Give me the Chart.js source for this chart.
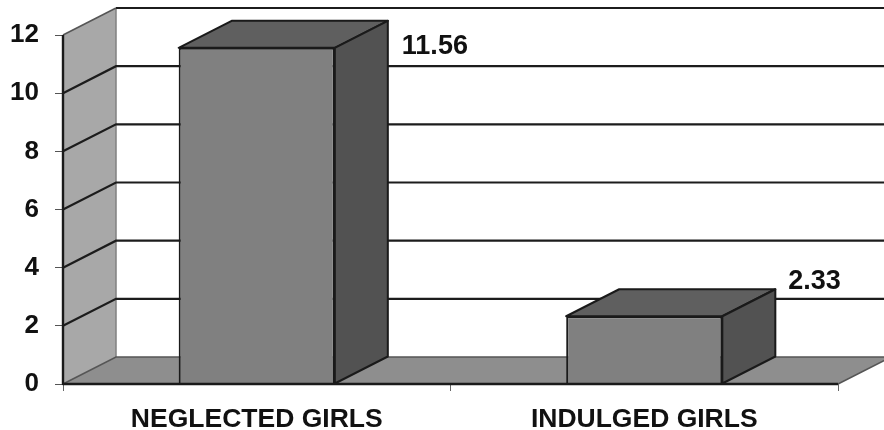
<!DOCTYPE html>
<html>
<head>
<meta charset="utf-8">
<style>html,body{margin:0;padding:0;background:#fff}canvas{display:block}</style>
<script src="https://cdn.jsdelivr.net/npm/chart.js@4"></script>
</head>
<body>
<canvas id="c" width="884" height="430"></canvas>
<script>
const categories = ["NEGLECTED GIRLS", "INDULGED GIRLS"];
const values = [11.56, 2.33];
const valueLabels = ["11.56", "2.33"];
const yTicks = [0, 2, 4, 6, 8, 10, 12];

const DX = 53, DY = 27;
const FONT = '"Liberation Sans", Arial, sans-serif';

const box3d = {
  id: 'box3d',
  beforeDatasetsDraw(chart) {
    const ctx = chart.ctx, a = chart.chartArea, y = chart.scales.y;
    const W = chart.width;
    ctx.save();
    // side wall
    ctx.fillStyle = '#a8a8a8';
    ctx.beginPath();
    ctx.moveTo(a.left, a.top); ctx.lineTo(a.left + DX, a.top - DY);
    ctx.lineTo(a.left + DX, a.bottom - DY); ctx.lineTo(a.left, a.bottom);
    ctx.closePath(); ctx.fill();
    ctx.strokeStyle = '#808080'; ctx.lineWidth = 1.5;
    ctx.beginPath();
    ctx.moveTo(a.left + DX, a.top - DY); ctx.lineTo(a.left + DX, a.bottom - DY);
    ctx.stroke();
    // floor
    ctx.fillStyle = '#8e8e8e';
    ctx.beginPath();
    ctx.moveTo(a.left, a.bottom); ctx.lineTo(a.left + DX, a.bottom - DY);
    ctx.lineTo(a.right + DX, a.bottom - DY); ctx.lineTo(a.right, a.bottom);
    ctx.closePath(); ctx.fill();
    ctx.strokeStyle = '#555'; ctx.lineWidth = 1.5;
    ctx.beginPath();
    ctx.moveTo(a.left, a.bottom); ctx.lineTo(a.left + DX, a.bottom - DY);
    ctx.lineTo(W + DX, a.bottom - DY);
    ctx.moveTo(a.right, a.bottom); ctx.lineTo(a.right + DX, a.bottom - DY);
    ctx.stroke();
    // grid
    yTicks.forEach(v => {
      if (v === 0) return;
      const p = y.getPixelForValue(v);
      ctx.strokeStyle = '#1c1c1c'; ctx.lineWidth = 2.2;
      ctx.beginPath();
      if (v === 12) {
        ctx.moveTo(a.left + DX, p - DY); ctx.lineTo(W, p - DY);
        ctx.stroke();
        ctx.strokeStyle = '#555'; ctx.lineWidth = 1.5;
        ctx.beginPath();
        ctx.moveTo(a.left, p); ctx.lineTo(a.left + DX, p - DY);
      } else {
        ctx.moveTo(a.left, p); ctx.lineTo(a.left + DX, p - DY); ctx.lineTo(W, p - DY);
      }
      ctx.stroke();
    });
    ctx.restore();
  },
  afterDatasetsDraw(chart) {
    const ctx = chart.ctx, meta = chart.getDatasetMeta(0);
    ctx.save();
    ctx.lineJoin = 'round';
    ctx.strokeStyle = '#1a1a1a'; ctx.lineWidth = 2;
    meta.data.forEach((bar, i) => {
      const l = bar.x - bar.width / 2, r = bar.x + bar.width / 2, t = bar.y, b = bar.base;
      ctx.fillStyle = '#5f5f5f';
      ctx.beginPath();
      ctx.moveTo(l, t); ctx.lineTo(l + DX, t - DY); ctx.lineTo(r + DX, t - DY); ctx.lineTo(r, t);
      ctx.closePath(); ctx.fill(); ctx.stroke();
      ctx.fillStyle = '#525252';
      ctx.beginPath();
      ctx.moveTo(r, t); ctx.lineTo(r + DX, t - DY); ctx.lineTo(r + DX, b - DY); ctx.lineTo(r, b);
      ctx.closePath(); ctx.fill(); ctx.stroke();
    });
    // value labels
    ctx.fillStyle = '#111';
    ctx.font = 'bold 27px ' + FONT;
    ctx.textAlign = 'left'; ctx.textBaseline = 'middle';
    const off = [[67, -1], [66, -35]];
    meta.data.forEach((bar, i) => {
      ctx.fillText(valueLabels[i], bar.x + bar.width / 2 + off[i][0], bar.y + off[i][1]);
    });
    // axis lines on top
    const a = chart.chartArea;
    ctx.strokeStyle = '#1a1a1a'; ctx.lineWidth = 2.4;
    ctx.beginPath();
    ctx.moveTo(a.left, a.top); ctx.lineTo(a.left, a.bottom); ctx.lineTo(a.right, a.bottom);
    ctx.stroke();
    ctx.restore();
  }
};

new Chart(document.getElementById('c'), {
  type: 'bar',
  data: {
    labels: categories,
    datasets: [{
      data: values,
      backgroundColor: '#808080',
      borderColor: '#1a1a1a',
      borderWidth: 2,
      barPercentage: 0.403,
      categoryPercentage: 1
    }]
  },
  plugins: [box3d],
  options: {
    responsive: false,
    animation: false,
    layout: { padding: { top: 35, right: 46, left: 0, bottom: 0 } },
    plugins: { legend: { display: false }, tooltip: { enabled: false } },
    scales: {
      x: {
        grid: { drawOnChartArea: false, drawTicks: true, tickLength: 7, color: '#666' },
        border: { display: false },
        ticks: { color: '#111', padding: 13, maxRotation: 0, font: { family: FONT, size: 26.5, weight: 'bold' } },
        afterFit(s) { s.height = 46; }
      },
      y: {
        min: 0, max: 12,
        grid: { drawOnChartArea: false, drawTicks: true, tickLength: 8, color: '#555' },
        border: { display: false },
        ticks: { stepSize: 2, color: '#111', padding: 16, font: { family: FONT, size: 26, weight: 'bold' } },
        afterFit(s) { s.width = 63; }
      }
    }
  }
});
</script>
</body>
</html>
